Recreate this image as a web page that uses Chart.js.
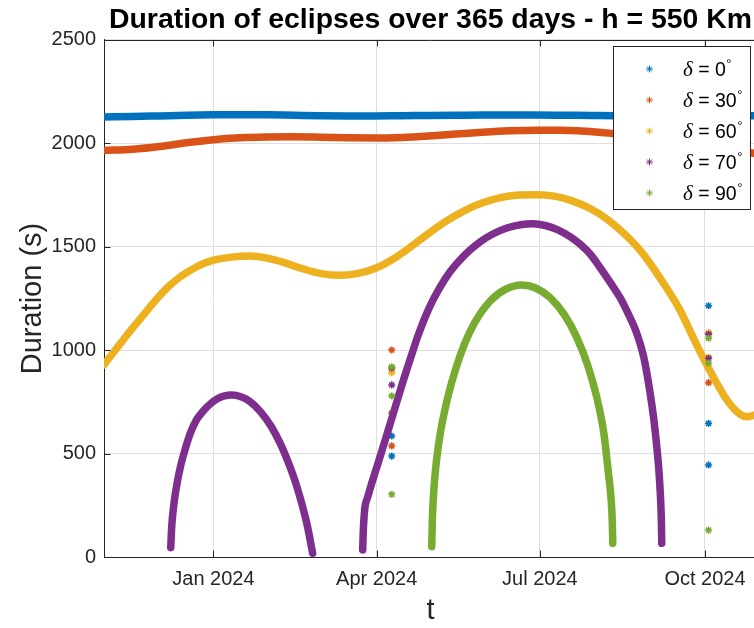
<!DOCTYPE html>
<html>
<head>
<meta charset="utf-8">
<title>Duration of eclipses over 365 days</title>
<script src="https://cdn.jsdelivr.net/npm/chart.js@4.4.1/dist/chart.umd.min.js"></script>
<style>
  html, body { margin: 0; padding: 0; overflow: hidden; background: #ffffff; }
  canvas { display: block; }
</style>
</head>
<body>
<canvas id="eclipses" width="757" height="628"></canvas>
<script>
// Eclipse durations for a 550 km orbit over one year.
// Time axis: days counted from 1 Jan 2024 (run spans 1 Nov 2023 .. 30 Oct 2024).
const xMinDay = -61;
const xMaxDay = 303;

const tickDays = [0, 91, 182, 274];
const tickLabels = ['Jan 2024', 'Apr 2024', 'Jul 2024', 'Oct 2024'];
const yTicks = [0, 500, 1000, 1500, 2000, 2500];

const deltaDeg = [0, 30, 60, 70, 90];
const seriesColors = ['#0072BD', '#D95319', '#EDB120', '#7E2F8E', '#77AC30'];

// delta = 0 deg and delta = 30 deg: eclipses every orbit, all year
const daysFull = [-61, -45, -30, -15, 0, 15, 30, 45, 60, 75, 90, 105, 120, 135, 150, 165, 180, 195, 210, 225, 240, 255, 270, 285, 303];
const dur0 = [2128, 2130, 2133, 2136, 2138, 2139, 2138, 2136, 2134, 2133, 2133, 2134, 2135, 2136, 2137, 2137, 2137, 2136, 2135, 2134, 2134, 2134, 2133, 2133, 2134];
const dur30 = [1966, 1972, 1985, 2003, 2018, 2027, 2031, 2032, 2030, 2027, 2026, 2029, 2036, 2045, 2054, 2061, 2064, 2063, 2057, 2045, 2030, 2012, 1993, 1972, 1950];

// delta = 60 deg
const days60 = [-61, -55, -50, -45, -40, -35, -30, -25, -20, -15, -10, -5, 0, 10, 20, 30, 40, 50, 60, 70, 80, 90, 100, 110, 120, 130, 140, 150, 160, 170, 180, 190, 200, 210, 220, 230, 240, 250, 260, 265, 270, 275, 280, 285, 290, 294, 297, 300, 303];
const dur60 = [930, 997, 1053, 1108, 1160, 1213, 1263, 1308, 1345, 1375, 1400, 1420, 1435, 1450, 1455, 1445, 1422, 1393, 1370, 1362, 1370, 1395, 1440, 1500, 1565, 1625, 1675, 1713, 1738, 1750, 1752, 1745, 1722, 1685, 1630, 1555, 1460, 1335, 1195, 1105, 1015, 930, 850, 775, 718, 688, 678, 682, 692];

// delta = 70 deg: two eclipse seasons
const days70a = [-23.8, -23.3, -22.8, -21.8, -20.3, -18.3, -15.8, -12.8, -9.3, -5.8, -1.8, 2.2, 6.2, 10.2, 15.3, 20.3, 26.3, 32.3, 37.3, 41.3, 45.3, 48.3, 51.3, 53.3, 54.3, 55.3];
const dur70a = [45, 140, 195, 272, 355, 440, 520, 600, 665, 705, 740, 765, 779, 783, 775, 752, 702, 630, 548, 467, 373, 288, 190, 111, 64, 18];
const days70b = [83.2, 83.5, 83.9, 84.5, 86, 88, 90, 93, 96.6, 100.3, 105, 110, 114.2, 120, 126, 132, 140, 148, 156, 164, 172, 178, 185, 192, 199, 205, 210, 215.5, 221, 226.6, 231, 235.9, 239.9, 243.3, 245.5, 247, 248.3, 249.2, 249.7, 249.9];
const dur70b = [34, 120, 185, 243, 290, 350, 405, 488, 590, 695, 830, 965, 1075, 1200, 1300, 1380, 1460, 1520, 1563, 1592, 1608, 1611, 1603, 1582, 1548, 1508, 1465, 1400, 1330, 1255, 1180, 1083, 965, 800, 665, 545, 420, 290, 170, 66];

// delta = 90 deg: one season around the summer solstice
const days90 = [121.7, 122, 122.5, 123.3, 124.4, 126.3, 128.5, 131, 134.7, 140.2, 145.7, 154.2, 162.7, 172, 179.6, 187.6, 195.6, 202.6, 208.6, 213.6, 217.6, 220, 221.6, 222.3, 222.6];
const dur90 = [50, 175, 270, 375, 470, 590, 690, 785, 900, 1035, 1135, 1237, 1294, 1315, 1301, 1255, 1172, 1061, 928, 775, 600, 420, 287, 180, 66];

// Isolated samples near the equinox crossings
const aprDay = 99.4;
const octDay = 276;
const aprDur0 = [585, 488];
const octDur0 = [1215, 646, 445];
const aprDur30 = [1001, 696, 537];
const octDur30 = [1082, 912, 843];
const aprDur60 = [905, 891];
const octDur60 = [1085, 965];
const aprDur70 = [914, 832];
const octDur70 = [1077, 961];
const aprDur90 = [920, 779, 303];
const octDur90 = [1058, 937, 130];

const FONT = '"Liberation Sans", Arial, Helvetica, sans-serif';
const AXIS_INK = '#262626';

const toXY = (days, vals) => days.map((d, i) => ({ x: d, y: vals[i] }));

function curve(days, vals, k) {
  return {
    type: 'line',
    label: 'delta ' + deltaDeg[k],
    data: toXY(days, vals),
    borderColor: seriesColors[k],
    backgroundColor: seriesColors[k],
    borderWidth: 7.5,
    borderCapStyle: 'round',
    borderJoinStyle: 'round',
    pointRadius: 0,
    cubicInterpolationMode: 'monotone',
    fill: false,
    order: 5 - k
  };
}

function spots(aprVals, octVals, k) {
  return {
    type: 'scatter',
    label: 'delta ' + deltaDeg[k] + ' samples',
    data: aprVals.map(v => ({ x: aprDay, y: v })).concat(octVals.map(v => ({ x: octDay, y: v }))),
    showLine: false,
    pointStyle: 'star',
    pointRadius: 3.6,
    borderWidth: 1.5,
    borderColor: seriesColors[k],
    backgroundColor: seriesColors[k],
    order: 5 - k
  };
}

const datasets = [
  curve(daysFull, dur0, 0), spots(aprDur0, octDur0, 0),
  curve(daysFull, dur30, 1), spots(aprDur30, octDur30, 1),
  curve(days60, dur60, 2), spots(aprDur60, octDur60, 2),
  curve(days70a, dur70a, 3), curve(days70b, dur70b, 3), spots(aprDur70, octDur70, 3),
  curve(days90, dur90, 4), spots(aprDur90, octDur90, 4)
];

// Box frame on top plus inward tick marks
const boxTicks = {
  id: 'boxTicks',
  afterDatasetsDraw(chart) {
    const { ctx, chartArea: a, scales: { x, y } } = chart;
    const len = 6.5;
    ctx.save();
    ctx.strokeStyle = AXIS_INK;
    ctx.lineWidth = 1;
    ctx.beginPath();
    const top = Math.round(a.top) + 0.5;
    ctx.moveTo(a.left, top);
    ctx.lineTo(a.right, top);
    tickDays.forEach(d => {
      const px = Math.round(x.getPixelForValue(d)) + 0.5;
      ctx.moveTo(px, a.bottom);
      ctx.lineTo(px, a.bottom - len);
      ctx.moveTo(px, a.top);
      ctx.lineTo(px, a.top + len);
    });
    yTicks.forEach(v => {
      const py = Math.round(y.getPixelForValue(v)) + 0.5;
      ctx.moveTo(a.left, py);
      ctx.lineTo(a.left + len, py);
    });
    ctx.stroke();
    ctx.restore();
  }
};

// Legend box in the upper right corner of the axes
const deltaLegend = {
  id: 'deltaLegend',
  afterDraw(chart) {
    const { ctx, chartArea: a } = chart;
    const w = 137, h = 163;
    const right = a.right - 7;
    const top = a.top + 6.5;
    const left = right - w;
    ctx.save();
    ctx.fillStyle = '#ffffff';
    ctx.fillRect(left, top, w, h);
    ctx.strokeStyle = AXIS_INK;
    ctx.lineWidth = 1;
    ctx.strokeRect(Math.round(left) + 0.5, Math.round(top) + 0.5, w, h);
    deltaDeg.forEach((deg, k) => {
      const cy = top + 22.5 + k * 31;
      ctx.strokeStyle = seriesColors[k];
      ctx.fillStyle = seriesColors[k];
      Chart.helpers.drawPoint(ctx, { pointStyle: 'star', radius: 3.4, borderWidth: 1.5, rotation: 0 }, left + 36.5, cy);
      ctx.fillStyle = '#000000';
      ctx.textAlign = 'left';
      ctx.textBaseline = 'alphabetic';
      const base = cy + 7;
      let cx = left + 70;
      ctx.font = 'italic 21px "Liberation Serif", "DejaVu Serif", serif';
      ctx.fillText('\u03b4', cx, base);
      cx += ctx.measureText('\u03b4').width;
      ctx.font = '19.5px ' + FONT;
      const txt = ' = ' + deg;
      ctx.fillText(txt, cx, base);
      cx += ctx.measureText(txt).width + 0.5;
      ctx.font = '13px ' + FONT;
      ctx.fillText('\u00b0', cx, base - 7.5);
    });
    ctx.restore();
  }
};

new Chart(document.getElementById('eclipses'), {
  type: 'line',
  data: { datasets },
  plugins: [boxTicks, deltaLegend],
  options: {
    responsive: false,
    animation: false,
    events: [],
    layout: { padding: 0, autoPadding: false },
    plugins: {
      legend: { display: false },
      tooltip: { enabled: false },
      title: {
        display: true,
        fullSize: false,
        text: 'Duration of eclipses over 365 days - h = 550 Km',
        color: '#000000',
        font: { family: FONT, size: 28.4, weight: 'bold', lineHeight: 1.2 },
        padding: { top: 3, bottom: 2.9 }
      }
    },
    scales: {
      x: {
        type: 'linear',
        min: xMinDay,
        max: xMaxDay,
        afterBuildTicks: s => { s.ticks = tickDays.map(v => ({ value: v })); },
        afterFit: s => { s.height = 71; s.paddingLeft = 0; s.paddingRight = 0; },
        grid: { color: '#dfdfdf', lineWidth: 1, drawTicks: false },
        border: { color: AXIS_INK, width: 1 },
        ticks: {
          padding: 10,
          color: AXIS_INK,
          font: { family: FONT, size: 20 },
          maxRotation: 0,
          autoSkip: false,
          callback: v => tickLabels[tickDays.indexOf(v)]
        },
        title: {
          display: true,
          text: 't',
          color: AXIS_INK,
          font: { family: FONT, size: 29, lineHeight: 1.2 },
          padding: { top: 0, bottom: 0 }
        }
      },
      y: {
        type: 'linear',
        min: 0,
        max: 2500,
        afterBuildTicks: s => { s.ticks = yTicks.map(v => ({ value: v })); },
        afterFit: s => { s.width = 104; s.paddingTop = 0; s.paddingBottom = 0; },
        grid: { color: '#dfdfdf', lineWidth: 1, drawTicks: false },
        border: { color: AXIS_INK, width: 1 },
        ticks: {
          padding: 8,
          color: AXIS_INK,
          font: { family: FONT, size: 20 },
          callback: v => String(v)
        },
        title: {
          display: true,
          text: 'Duration (s)',
          color: AXIS_INK,
          font: { family: FONT, size: 29, lineHeight: 1.2 },
          padding: { top: 16, bottom: 0 }
        }
      }
    }
  }
});
</script>
</body>
</html>
